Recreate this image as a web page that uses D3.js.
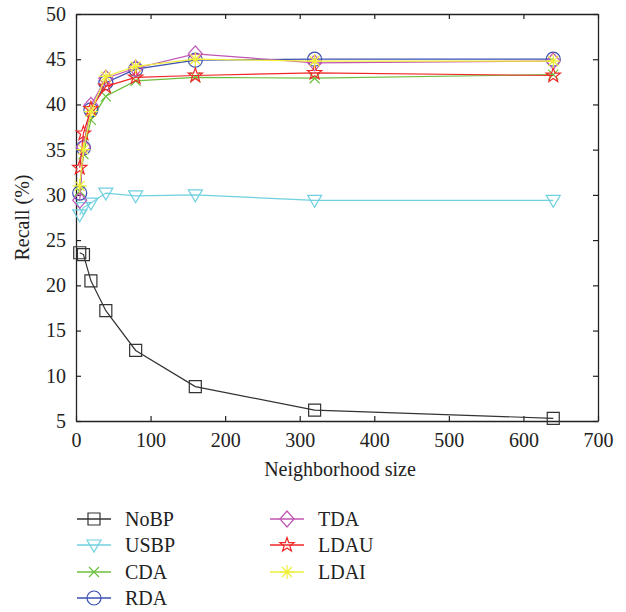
<!DOCTYPE html>
<html>
<head>
<meta charset="utf-8">
<script src="https://cdn.jsdelivr.net/npm/d3@7"></script>
<style>
  body { margin: 0; background: #fff; }
  text { font-family: "Liberation Serif", "DejaVu Serif", serif; fill: #222; }
</style>
</head>
<body>
<script>
// neighborhood sizes
var sizes = [5, 10, 20, 40, 80, 160, 320, 640];

// recall (%) per method
var noBP = [23.6, 23.4, 20.5, 17.2, 12.8, 8.8, 6.2, 5.3];
var usBP = [27.8, 28.6, 29.1, 30.2, 29.9, 30.0, 29.4, 29.4];
var cda  = [30.4, 34.5, 38.3, 40.9, 42.6, 43.0, 42.9, 43.3];
var rda  = [30.2, 35.2, 39.4, 42.4, 43.9, 44.9, 45.0, 45.0];
var tda  = [29.4, 35.3, 39.9, 42.9, 44.0, 45.6, 44.6, 44.8];
var ldau = [33.0, 36.8, 39.5, 42.0, 43.0, 43.2, 43.5, 43.2];
var ldai = [31.0, 35.0, 39.2, 43.1, 44.2, 45.0, 44.8, 44.8];

var xTicks = [0, 100, 200, 300, 400, 500, 600, 700];
var yTicks = [5, 10, 15, 20, 25, 30, 35, 40, 45, 50];

var series = [
  {name: 'NoBP', values: noBP, color: '#333333', marker: 'square'},
  {name: 'USBP', values: usBP, color: '#6fd0e0', marker: 'triangle'},
  {name: 'CDA',  values: cda,  color: '#6cbf3c', marker: 'cross'},
  {name: 'RDA',  values: rda,  color: '#3b4fb4', marker: 'circle'},
  {name: 'TDA',  values: tda,  color: '#c055b5', marker: 'diamond'},
  {name: 'LDAU', values: ldau, color: '#f02828', marker: 'star'},
  {name: 'LDAI', values: ldai, color: '#eeee3a', marker: 'asterisk'}
];

var w = 626, h = 612;
var mLeft = 76, mRight = 598, mTop = 14, mBottom = 421;

var svg = d3.select('body').append('svg')
  .attr('width', w)
  .attr('height', h);

var x = d3.scaleLinear().domain([0, 700]).range([mLeft, mRight]);
var y = d3.scaleLinear().domain([5, 50]).range([mBottom, mTop]);

// frame with inward ticks on all four sides
svg.append('g').attr('transform', 'translate(0,' + mBottom + ')')
  .call(d3.axisBottom(x).tickValues(xTicks).tickSizeInner(-5).tickSizeOuter(0).tickPadding(12))
  .call(styleAxis);
svg.append('g').attr('transform', 'translate(0,' + mTop + ')')
  .call(d3.axisTop(x).tickValues(xTicks).tickSizeInner(-5).tickSizeOuter(0).tickFormat(''))
  .call(styleAxis);
svg.append('g').attr('transform', 'translate(' + mLeft + ',0)')
  .call(d3.axisLeft(y).tickValues(yTicks).tickSizeInner(-5).tickSizeOuter(0).tickPadding(10))
  .call(styleAxis);
svg.append('g').attr('transform', 'translate(' + mRight + ',0)')
  .call(d3.axisRight(y).tickValues(yTicks).tickSizeInner(-5).tickSizeOuter(0).tickFormat(''))
  .call(styleAxis);

function styleAxis(g) {
  g.select('.domain').attr('stroke', '#222').attr('stroke-width', 1.3);
  g.selectAll('.tick line').attr('stroke', '#222').attr('stroke-width', 1.2);
  g.selectAll('.tick text')
    .style('font-family', '"Liberation Serif", serif')
    .style('font-size', '20px')
    .attr('fill', '#222');
}

// axis titles
svg.append('text')
  .attr('x', (mLeft + mRight) / 2 + 3)
  .attr('y', 476)
  .attr('text-anchor', 'middle')
  .style('font-size', '20px')
  .text('Neighborhood size');

svg.append('text')
  .attr('transform', 'translate(29,' + ((mTop + mBottom) / 2) + ') rotate(-90)')
  .attr('text-anchor', 'middle')
  .style('font-size', '20px')
  .text('Recall (%)');

// marker shapes
function markerPath(type) {
  var p = d3.path();
  if (type === 'square') {
    p.rect(-6, -6, 12, 12);
  } else if (type === 'triangle') {
    p.moveTo(-7, -5); p.lineTo(7, -5); p.lineTo(0, 7); p.closePath();
  } else if (type === 'cross') {
    p.moveTo(-5, -5); p.lineTo(5, 5); p.moveTo(-5, 5); p.lineTo(5, -5);
  } else if (type === 'circle') {
    p.arc(0, 0, 7, 0, 2 * Math.PI);
  } else if (type === 'diamond') {
    p.moveTo(0, -8); p.lineTo(7, 0); p.lineTo(0, 8); p.lineTo(-7, 0); p.closePath();
  } else if (type === 'star') {
    for (var i = 0; i < 10; i++) {
      var r = i % 2 === 0 ? 7.5 : 3;
      var a = -Math.PI / 2 + i * Math.PI / 5;
      if (i === 0) p.moveTo(r * Math.cos(a), r * Math.sin(a));
      else p.lineTo(r * Math.cos(a), r * Math.sin(a));
    }
    p.closePath();
  } else if (type === 'asterisk') {
    p.moveTo(0, -7); p.lineTo(0, 7);
    p.moveTo(-7, 0); p.lineTo(7, 0);
    p.moveTo(-5, -5); p.lineTo(5, 5);
    p.moveTo(-5, 5); p.lineTo(5, -5);
  }
  return p.toString();
}

var line = d3.line()
  .x(function(d) { return x(d.s); })
  .y(function(d) { return y(d.v); });

series.forEach(function(s) {
  var pts = sizes.map(function(sz, i) { return {s: sz, v: s.values[i]}; });
  var g = svg.append('g');
  g.append('path')
    .datum(pts)
    .attr('d', line)
    .attr('fill', 'none')
    .attr('stroke', s.color)
    .attr('stroke-width', 1.2);
  g.selectAll('path.mk')
    .data(pts)
    .enter()
    .append('path')
    .attr('class', 'mk')
    .attr('transform', function(d) { return 'translate(' + x(d.s) + ',' + y(d.v) + ')'; })
    .attr('d', markerPath(s.marker))
    .attr('fill', 'none')
    .attr('stroke', s.color)
    .attr('stroke-width', 1.2);
});

// legend, two columns
var legendRows = [519, 545, 572, 598];
series.forEach(function(s, i) {
  var col = i < 4 ? 0 : 1;
  var row = i < 4 ? i : i - 4;
  var x0 = col === 0 ? 77 : 270;
  var yy = legendRows[row];
  var g = svg.append('g');
  g.append('line')
    .attr('x1', x0).attr('x2', x0 + 34)
    .attr('y1', yy).attr('y2', yy)
    .attr('stroke', s.color)
    .attr('stroke-width', 1.3);
  g.append('path')
    .attr('transform', 'translate(' + (x0 + 17) + ',' + yy + ')')
    .attr('d', markerPath(s.marker))
    .attr('fill', 'none')
    .attr('stroke', s.color)
    .attr('stroke-width', 1.2);
  g.append('text')
    .attr('x', x0 + 48)
    .attr('y', yy + 7)
    .style('font-size', '20px')
    .text(s.name);
});
</script>
</body>
</html>
